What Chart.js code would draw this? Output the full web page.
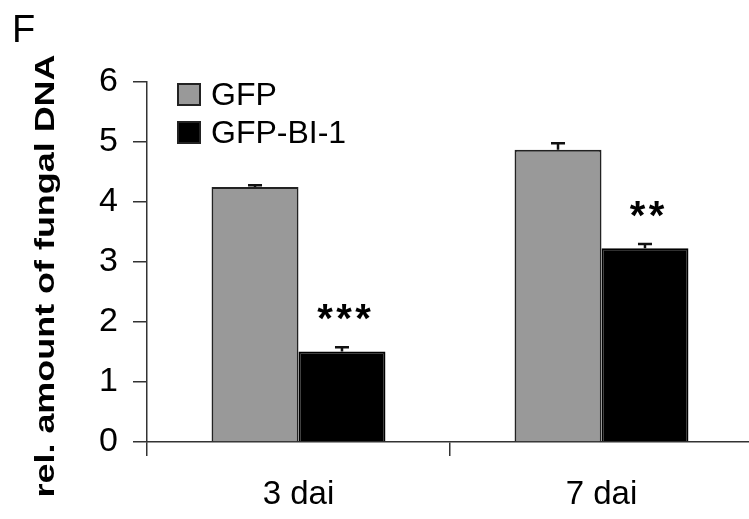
<!DOCTYPE html>
<html><head><meta charset="utf-8">
<script src="https://cdn.jsdelivr.net/npm/chart.js@4.4.0/dist/chart.umd.min.js"></script>
<style>html,body{margin:0;padding:0;background:#fff;overflow:hidden;}#wrap{width:753px;height:519px;position:relative;}</style>
</head><body><div id="wrap"><canvas id="c" width="753" height="519"></canvas></div>
<script>
const categories = ["3 dai", "7 dai"];
const seriesNames = ["GFP", "GFP-BI-1"];
const gfpValues = [4.25, 4.87];
const gfpErrors = [0.03, 0.11];
const bi1Values = [1.51, 3.23];
const bi1Errors = [0.07, 0.07];
const significance = ["***", "**"];
const yTicks = [0, 1, 2, 3, 4, 5, 6];
const yTitle = "rel. amount of fungal DNA";
const panelLetter = "F";

const FONT = "'Liberation Sans', Arial, sans-serif";

const extras = {
  id: 'extras',
  afterDatasetsDraw(chart) {
    const ctx = chart.ctx;
    const y = chart.scales.y;
    const errs = [gfpErrors, bi1Errors];
    ctx.save();
    ctx.strokeStyle = '#111';
    ctx.lineWidth = 2.5;
    chart.data.datasets.forEach((ds, di) => {
      const meta = chart.getDatasetMeta(di);
      meta.data.forEach((bar, i) => {
        const v = ds.data[i], e = errs[di][i];
        const yTop = y.getPixelForValue(v + e);
        const yv = y.getPixelForValue(v);
        ctx.beginPath();
        ctx.moveTo(bar.x, yv); ctx.lineTo(bar.x, yTop);
        ctx.moveTo(bar.x - 7, yTop); ctx.lineTo(bar.x + 7, yTop);
        ctx.stroke();
      });
    });
    // significance stars
    const meta1 = chart.getDatasetMeta(1);
    ctx.fillStyle = '#000';
    ctx.font = "bold 40px " + FONT;
    ctx.textAlign = 'center';
    ctx.textBaseline = 'alphabetic';
    meta1.data.forEach((bar, i) => {
      const yTop = y.getPixelForValue(bi1Values[i] + bi1Errors[i]);
      const s = significance[i];
      const n = s.length;
      for (let k = 0; k < n; k++) {
        const cx = bar.x + 2 + (k - (n - 1) / 2) * 19;
        ctx.fillText(s[k], cx, yTop - 15);
      }
    });
    // panel letter
    ctx.textAlign = 'left';
    ctx.font = "38px " + FONT;
    ctx.fillText(panelLetter, 12, 42);
    // y title (stretched along its length as in the reference)
    ctx.save();
    ctx.font = "bold 28px " + FONT;
    ctx.textAlign = 'center';
    ctx.textBaseline = 'middle';
    const w = ctx.measureText(yTitle).width;
    ctx.translate(46, 276);
    ctx.rotate(-Math.PI / 2);
    ctx.scale(443 / w, 1);
    ctx.fillText(yTitle, 0, 0);
    ctx.restore();
    // legend
    const colors = ['#999999', '#000000'];
    ctx.font = "32px " + FONT;
    ctx.textBaseline = 'middle';
    ctx.textAlign = 'left';
    seriesNames.forEach((n, i) => {
      const by = 83 + i * 38;
      ctx.fillStyle = colors[i];
      ctx.fillRect(177, by, 24, 23);
      ctx.strokeStyle = '#222';
      ctx.lineWidth = 2;
      ctx.strokeRect(178, by + 1, 22, 21);
      ctx.fillStyle = '#000';
      ctx.fillText(n, 211, by + 13);
    });
    ctx.restore();
  }
};

new Chart(document.getElementById('c'), {
  type: 'bar',
  data: {
    labels: categories,
    datasets: [
      { label: seriesNames[0], data: gfpValues, backgroundColor: '#999999', borderColor: '#222', borderWidth: 2, barPercentage: 1, categoryPercentage: 0.574 },
      { label: seriesNames[1], data: bi1Values, backgroundColor: '#000000', borderColor: '#000', borderWidth: 2, barPercentage: 1, categoryPercentage: 0.574 }
    ]
  },
  options: {
    responsive: false,
    animation: false,
    layout: { padding: { top: 82, right: 0, left: 0, bottom: 0 } },
    plugins: { legend: { display: false }, tooltip: { enabled: false } },
    scales: {
      x: {
        afterFit: s => { s.height = 77; },
        grid: { display: true, drawOnChartArea: false, drawTicks: true, tickLength: 14, color: '#333', offset: true, lineWidth: 1.5 },
        border: { display: true, color: '#333', width: 1.5 },
        ticks: { color: '#000', font: { family: FONT, size: 33 }, padding: 19 }
      },
      y: {
        min: 0, max: 6,
        afterFit: s => { s.width = 147; },
        afterBuildTicks: s => { s.ticks = yTicks.map(v => ({ value: v })); },
        grid: { display: true, drawOnChartArea: false, drawTicks: true, tickLength: 14, color: '#333', lineWidth: 1.5 },
        border: { display: true, color: '#333', width: 1.5 },
        ticks: { color: '#000', font: { family: FONT, size: 34 }, padding: 15 },
        title: { display: false }
      }
    }
  },
  plugins: [extras]
});
</script></body></html>
